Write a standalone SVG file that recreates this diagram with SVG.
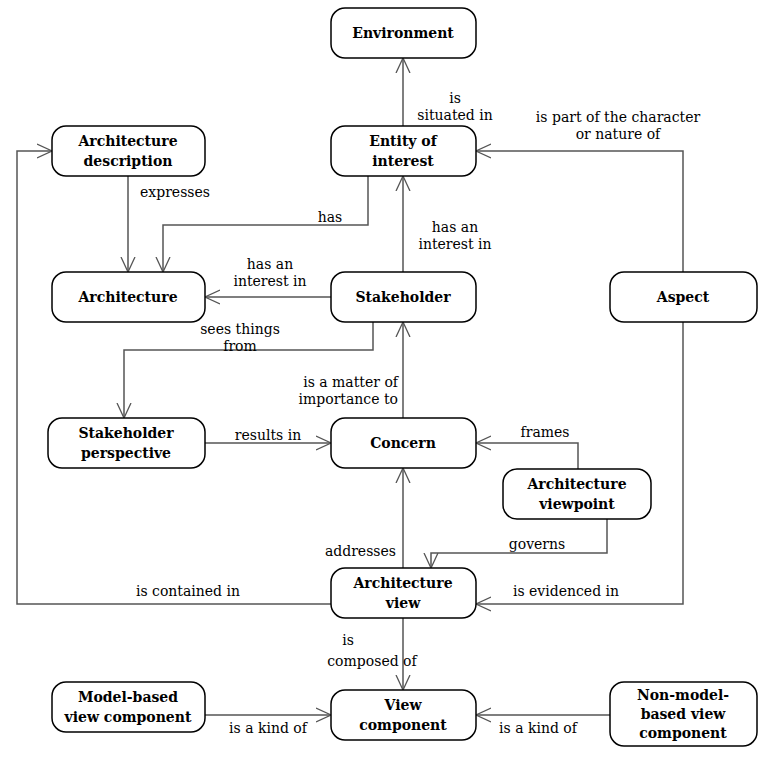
<svg xmlns="http://www.w3.org/2000/svg" width="760" height="759" viewBox="0 0 760 759">
<style>
.n rect{fill:#fff;stroke:#000;stroke-width:1.5}
.n text{font-family:"DejaVu Serif",serif;font-weight:bold;font-size:14px;text-anchor:middle}
.c path{fill:none;stroke:#555;stroke-width:1.5;marker-end:url(#a)}
.l{font-family:"DejaVu Serif",serif;font-size:14px;text-anchor:middle;fill:#000}
.e{text-anchor:end}
</style>
<defs><marker id="a" viewBox="0 0 16 16" refX="15" refY="8" markerWidth="16" markerHeight="16" markerUnits="userSpaceOnUse" orient="auto"><path d="M0,1 L15,8 L0,15" fill="none" stroke="#555" stroke-width="1.3"/></marker></defs>
<rect width="760" height="759" fill="#fff"/>
<g class="c">
<path d="M403,126 V58"/>
<path d="M403,272 V176"/>
<path d="M368,176 V225 H163 V272"/>
<path d="M128,176 V272"/>
<path d="M331,297 H205"/>
<path d="M373,322 V350 H124 V418"/>
<path d="M403,418 V322"/>
<path d="M205,443 H331"/>
<path d="M578,469 V443 H476"/>
<path d="M607,519 V553 H431 V568"/>
<path d="M403,568 V468"/>
<path d="M331,604 H17 V151 H52"/>
<path d="M683,272 V151 H476"/>
<path d="M683,322 V604 H476"/>
<path d="M403,618 V690"/>
<path d="M205,715 H331"/>
<path d="M610,715 H476"/>
</g>
<g>
<text class="l" x="455" y="103">is</text><text class="l" x="455" y="120">situated  in</text>
<text class="l" x="618" y="122">is part of the character</text><text class="l" x="618" y="139">or nature of</text>
<text class="l" x="175" y="197">expresses</text>
<text class="l" x="330" y="222">has</text>
<text class="l" x="455" y="232">has an</text><text class="l" x="455" y="249">interest in</text>
<text class="l" x="270" y="269">has an</text><text class="l" x="270" y="286">interest in</text>
<text class="l" x="240" y="334">sees things</text><text class="l" x="240" y="351">from</text>
<text class="l e" x="398" y="387">is a matter of</text><text class="l e" x="398" y="404">importance to</text>
<text class="l" x="268" y="440">results in</text>
<text class="l" x="545" y="437">frames</text>
<text class="l" x="537" y="549">governs</text>
<text class="l e" x="396" y="556">addresses</text>
<text class="l" x="188" y="596">is contained in</text>
<text class="l" x="566" y="596">is evidenced in</text>
<text class="l" x="348" y="645">is</text><text class="l" x="372" y="666">composed of</text>
<text class="l" x="268" y="733">is a kind of</text>
<text class="l" x="538" y="733">is a kind of</text>
</g>
<g class="n" id="environment"><rect x="331" y="8" width="145" height="50" rx="14"/><text x="403" y="38">Environment</text></g>
<g class="n" id="entity"><rect x="331" y="126" width="145" height="50" rx="14"/><text x="403" y="146">Entity of</text><text x="403" y="166">interest</text></g>
<g class="n" id="archdesc"><rect x="52" y="126" width="153" height="50" rx="14"/><text x="128" y="146">Architecture</text><text x="128" y="166">description</text></g>
<g class="n" id="architecture"><rect x="52" y="272" width="153" height="50" rx="14"/><text x="128" y="302">Architecture</text></g>
<g class="n" id="stakeholder"><rect x="331" y="272" width="145" height="50" rx="14"/><text x="403" y="302">Stakeholder</text></g>
<g class="n" id="aspect"><rect x="610" y="272" width="147" height="50" rx="14"/><text x="683" y="302">Aspect</text></g>
<g class="n" id="shperspective"><rect x="48" y="418" width="157" height="50" rx="14"/><text x="126" y="438">Stakeholder</text><text x="126" y="458">perspective</text></g>
<g class="n" id="concern"><rect x="331" y="418" width="145" height="50" rx="14"/><text x="403" y="448">Concern</text></g>
<g class="n" id="viewpoint"><rect x="503" y="469" width="148" height="50" rx="14"/><text x="577" y="489">Architecture</text><text x="577" y="509">viewpoint</text></g>
<g class="n" id="view"><rect x="331" y="568" width="145" height="50" rx="14"/><text x="403" y="588">Architecture</text><text x="403" y="608">view</text></g>
<g class="n" id="modelbased"><rect x="52" y="682" width="153" height="50" rx="14"/><text x="128" y="702">Model-based</text><text x="128" y="722">view component</text></g>
<g class="n" id="viewcomponent"><rect x="331" y="690" width="145" height="50" rx="14"/><text x="403" y="710">View</text><text x="403" y="730">component</text></g>
<g class="n" id="nonmodel"><rect x="610" y="682" width="147" height="64" rx="14"/><text x="683" y="700">Non-model-</text><text x="683" y="719">based view</text><text x="683" y="738">component</text></g>
</svg>
